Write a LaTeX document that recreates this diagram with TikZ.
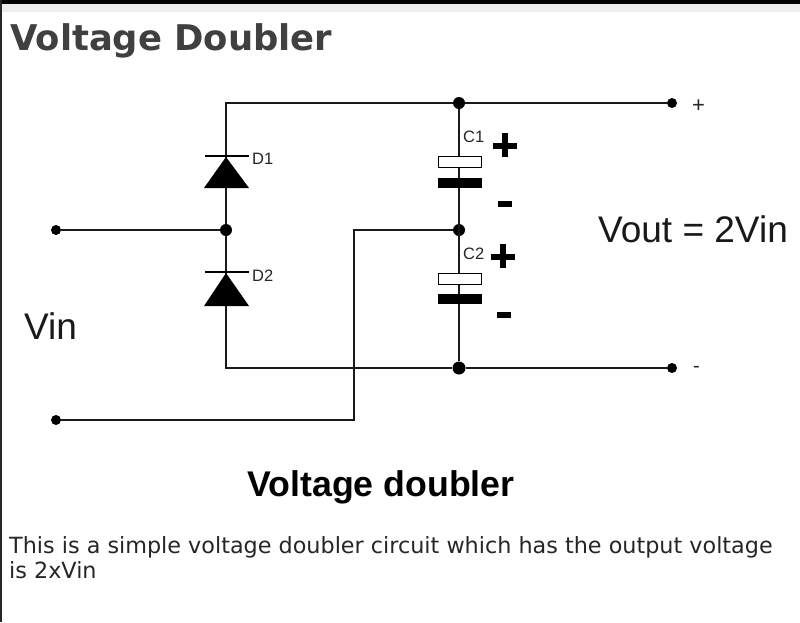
\documentclass[tikz,border=0pt]{standalone}
\usepackage{fontspec}
\setmainfont{Liberation Sans}
\newfontfamily\verdanaish{DejaVu Sans}
\begin{document}
\begin{tikzpicture}[x=1pt,y=-1pt,
  wire/.style={line width=2pt,draw=black!90},
  term/.style={circle,fill=black,inner sep=0pt,minimum size=10pt},
  junc/.style={circle,fill=black,inner sep=0pt,minimum size=12pt},
  lbl/.style={inner sep=0pt,font=\fontsize{16.5}{16.5}\selectfont,text=black!85},
  big/.style={inner sep=0pt,font=\fontsize{37}{37}\selectfont,text=black!90},
  sign/.style={fill=black,draw=none}]
\useasboundingbox (0,0) rectangle (800,622);
\fill[white] (0,0) rectangle (800,622);
\fill[black!7] (2,4) rectangle (800,12);
\fill[black] (0,0) rectangle (800,4);
\fill[black!85] (0,0) rectangle (2,622);
% Junctions and terminals
\node[term] (tl) at (56,230) {};
\node[term] (bl) at (56,420) {};
\node[term] (tp) at (672,103) {};
\node[term] (tm) at (672,368) {};
\node[junc] (jd) at (226,230) {};
\node[junc] (jt) at (459,103) {};
\node[junc] (jc) at (459,230) {};
\node[junc,minimum size=13pt] (jb) at (459,368) {};
\coordinate (ctl) at (226,103);
\coordinate (cbl) at (226,368);
\coordinate (cv1) at (354,230);
\coordinate (cv2) at (354,420);
% Wires
\draw[wire] (jd) -- (ctl) -- (jt) -- (tp);
\draw[wire] (jd) -- (cbl) -- (jb) -- (tm);
\draw[wire] (tl) -- (jd);
\draw[wire] (jc) -- (cv1) -- (cv2) -- (bl);
\draw[wire] (jt) -- (jb);
% Diodes
\fill[black] (226,157) -- (249,188) -- (204,188) -- cycle;
\fill[black] (226,273) -- (249,306) -- (204,306) -- cycle;
\draw[line width=2.4pt] (205,156) -- (249,156);
\draw[line width=2.4pt] (205,272) -- (249,272);
% Capacitors
\draw[line width=1.2pt,fill=white] (438.5,156.5) rectangle (481.5,167.5);
\fill[black] (438,178) rectangle (482,188);
\draw[line width=1.2pt,fill=white] (438.5,273.5) rectangle (481.5,284.5);
\fill[black] (438,294) rectangle (482,304);
% Polarity marks
\fill[sign] (493,142.5) rectangle (517,148.5);
\fill[sign] (502,133) rectangle (508,157);
\fill[sign] (498,201) rectangle (512,207);
\fill[sign] (491,253.5) rectangle (515,259.5);
\fill[sign] (500,244) rectangle (506,268);
\fill[sign] (497,312) rectangle (511,318);
% Labels
\node[lbl,anchor=west] (d1) at (252,158.5) {D1};
\node[lbl,anchor=west] (d2) at (252,275.5) {D2};
\node[lbl,anchor=west] (c1) at (463,136.5) {C1};
\node[lbl,anchor=west] (c2) at (463,253.5) {C2};
\node[lbl,anchor=west,font=\fontsize{22}{22}\selectfont] (pl) at (692,106) {+};
\node[lbl,anchor=west,font=\fontsize{20}{20}\selectfont] (mi) at (693,369) {-};
\node[big,anchor=base west] (vin) at (24,339) {Vin};
\node[big,anchor=base west] (vout) at (598,242) {Vout = 2Vin};
\node[inner sep=0pt,anchor=base] (cap) at (381,496) {\fontsize{35.7}{35.7}\selectfont\bfseries Voltage doubler};
\node[inner sep=0pt,anchor=base west,text=black!75] (ttl) at (10,50) {\verdanaish\fontsize{35.4}{35.4}\selectfont\bfseries Voltage Doubler};
\node[inner sep=0pt,anchor=base west,text=black!85] (b1) at (9,553) {\verdanaish\fontsize{22.3}{22.3}\selectfont This is a simple voltage doubler circuit which has the output voltage};
\node[inner sep=0pt,anchor=base west,text=black!85] (b2) at (9,578) {\verdanaish\fontsize{22.3}{22.3}\selectfont is 2xVin};
\end{tikzpicture}
\end{document}
